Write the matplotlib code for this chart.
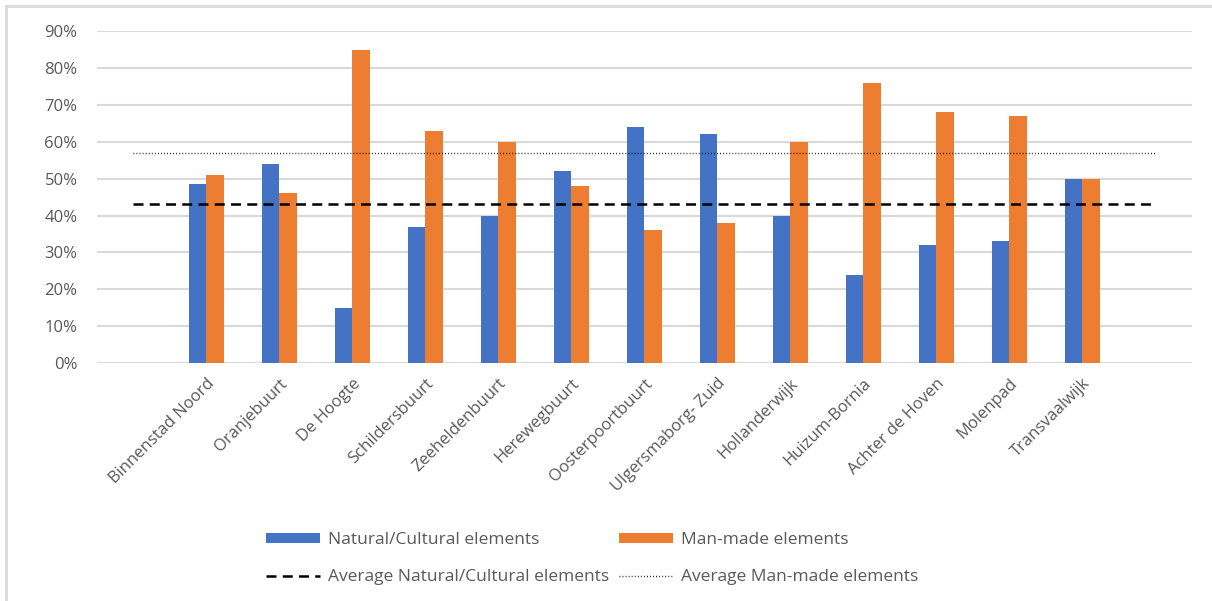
import matplotlib.pyplot as plt
from matplotlib.lines import Line2D
import numpy as np

# data
neighbourhoods = ['Binnenstad Noord', 'Oranjebuurt', 'De Hoogte', 'Schildersbuurt',
                  'Zeeheldenbuurt', 'Herewegbuurt', 'Oosterpoortbuurt', 'Ulgersmaborg- Zuid',
                  'Hollanderwijk', 'Huizum-Bornia', 'Achter de Hoven', 'Molenpad', 'Transvaalwijk']
natural = [0.485, 0.54, 0.15, 0.37, 0.40, 0.52, 0.64, 0.62, 0.40, 0.24, 0.32, 0.33, 0.50]
man_made = [0.51, 0.46, 0.85, 0.63, 0.60, 0.48, 0.36, 0.38, 0.60, 0.76, 0.68, 0.67, 0.50]
avg_natural = 0.431
avg_man_made = 0.571

blue = '#4472C4'
orange = '#ED7D31'
grey_txt = '#595959'
grid_col = '#D9D9D9'

plt.rcParams['font.family'] = ['Open Sans', 'DejaVu Sans']

fig = plt.figure(figsize=(12.12, 6.01), dpi=100)
ax = fig.add_axes([0.080, 0.396, 0.9035, 0.552])

x = np.arange(len(neighbourhoods))
w = 0.24
b1 = ax.bar(x - w / 2, natural, w, color=blue, zorder=3)
b2 = ax.bar(x + w / 2, man_made, w, color=orange, zorder=3)

# average lines, spanning the empty end slots as in the original
dash = (0, (4, 2.5))
dot = (0, (0.6, 1.6))
ax.hlines(avg_natural, -1, 13, colors='black', linestyles=dash, linewidth=1.8, zorder=4)
ax.hlines(avg_man_made, -1, 13, colors='black', linestyles=dot, linewidth=1.0, zorder=4)

ax.set_xlim(-1.5, 13.5)
ax.set_ylim(0, 0.9)
yt = np.arange(0, 0.91, 0.1)
ax.set_yticks(yt)
ax.set_yticklabels([f'{int(round(v * 100))}%' for v in yt])
ax.set_xticks(x)
ax.set_xticklabels(neighbourhoods, rotation=45, ha='right', rotation_mode='anchor')
ax.tick_params(axis='y', length=0, pad=14, labelsize=12, labelcolor=grey_txt)
ax.tick_params(axis='x', length=0, pad=9, labelsize=12, labelcolor=grey_txt)
ax.yaxis.grid(True, color=grid_col, linewidth=1.5, zorder=0)
for s in ax.spines.values():
    s.set_visible(False)

handles = [b1, Line2D([], [], color='black', linestyle=dash, linewidth=1.8),
           b2, Line2D([], [], color='black', linestyle=dot, linewidth=1.0)]
labels = ['Natural/Cultural elements', 'Average Natural/Cultural elements',
          'Man-made elements', 'Average Man-made elements']
leg = fig.legend(handles, labels, ncol=2, loc='upper left', bbox_to_anchor=(0.2195, 0.114),
                 frameon=False, fontsize=12.5, handlelength=3.1, handleheight=0.5,
                 handletextpad=0.45, columnspacing=0.6, labelspacing=1.2,
                 borderpad=0, borderaxespad=0)
for t in leg.get_texts():
    t.set_color(grey_txt)

# chart area border (left and top visible)
fig.add_artist(Line2D([0.005, 0.005], [0.99, 0.0], color=grid_col, linewidth=2, transform=fig.transFigure))
fig.add_artist(Line2D([0.005, 1.0], [0.99, 0.99], color=grid_col, linewidth=2, transform=fig.transFigure))

fig.savefig('out.png', dpi=100)
